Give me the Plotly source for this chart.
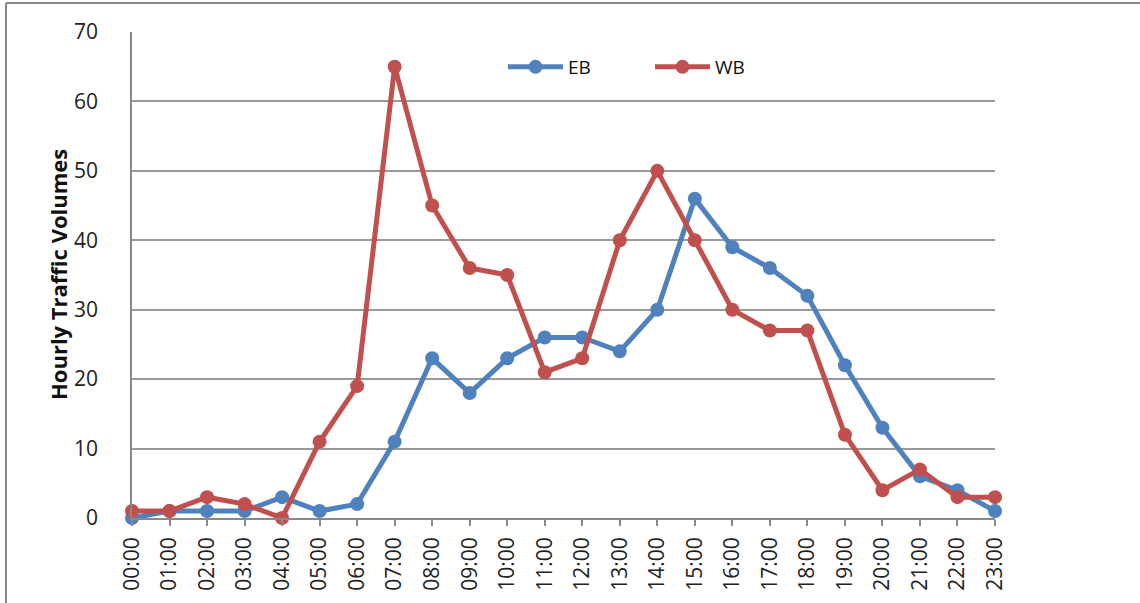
import plotly.graph_objects as go

hours = [f"{h:02d}:00" for h in range(24)]
eb = [0, 1, 1, 1, 3, 1, 2, 11, 23, 18, 23, 26, 26, 24, 30, 46, 39, 36, 32, 22, 13, 6, 4, 1]
wb = [1, 1, 3, 2, 0, 11, 19, 65, 45, 36, 35, 21, 23, 40, 50, 40, 30, 27, 27, 12, 4, 7, 3, 3]
y_ticks = [0, 10, 20, 30, 40, 50, 60, 70]

W, H = 1140, 603
L, R, T, B = 132, 145, 32, 85
pw, ph = W - L - R, H - T - B

FONT = "Open Sans"
x_idx = list(range(len(hours)))

fig = go.Figure()
fig.add_trace(go.Scatter(
    x=x_idx, y=eb, name="EB", mode="lines+markers",
    line=dict(color="#4F81BD", width=5),
    marker=dict(size=14, color="#4F81BD"),
    cliponaxis=False,
))
fig.add_trace(go.Scatter(
    x=x_idx, y=wb, name="WB", mode="lines+markers",
    line=dict(color="#C0504D", width=5),
    marker=dict(size=14, color="#C0504D"),
    cliponaxis=False,
))

def px_x(p):
    return (p - L) / pw

def px_y(p):
    return 1 - (p - T) / ph

fig.update_layout(
    width=W, height=H,
    margin=dict(l=L, r=R, t=T, b=B),
    paper_bgcolor="white", plot_bgcolor="white",
    font=dict(family=FONT, size=21, color="#222"),
    showlegend=True,
    legend=dict(
        orientation="h", x=px_x(503), y=px_y(67), xanchor="left", yanchor="middle",
        font=dict(family=FONT, size=19, color="#111"),
        itemwidth=55,
        entrywidth=77, entrywidthmode="pixels",
        bgcolor="rgba(0,0,0,0)",
    ),
    xaxis=dict(
        range=[0, 23], tickmode="array", tickvals=x_idx, ticktext=hours,
        tickangle=-90, ticks="outside", ticklen=6, tickwidth=1.5, tickcolor="#888",
        showline=True, linecolor="#888", linewidth=1.5,
        showgrid=False, zeroline=False,
        tickfont=dict(family=FONT, size=21, color="#222"),
        ticklabelstandoff=3,
    ),
    yaxis=dict(
        range=[0, 70], tickmode="array", tickvals=y_ticks,
        showline=True, linecolor="#888", linewidth=1.5,
        showgrid=True, gridcolor="#999", gridwidth=1.5,
        zeroline=False, ticks="",
        tickfont=dict(family=FONT, size=21, color="#222"),
        ticklabelstandoff=28,
    ),
    annotations=[dict(
        text="<b>Hourly Traffic Volumes</b>", xref="paper", yref="paper",
        x=px_x(58), y=0.5, xanchor="center", yanchor="middle",
        textangle=-90, showarrow=False,
        font=dict(family=FONT, size=22, color="#111"),
    )],
    shapes=[
        dict(type="line", xref="paper", yref="paper",
             x0=px_x(6), x1=px_x(W + 5), y0=px_y(3), y1=px_y(3),
             line=dict(color="#888", width=2)),
        dict(type="line", xref="paper", yref="paper",
             x0=px_x(6), x1=px_x(6), y0=px_y(3), y1=px_y(H + 5),
             line=dict(color="#888", width=2)),
    ],
)

fig.write_html("out.html")
